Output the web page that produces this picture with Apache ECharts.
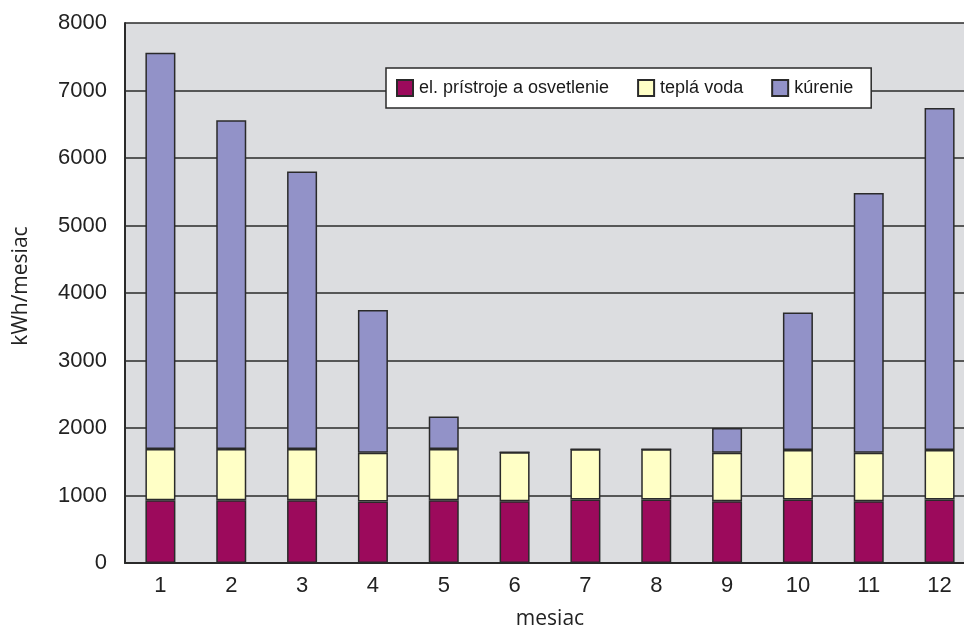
<!DOCTYPE html>
<html>
<head>
<meta charset="utf-8">
<script src="https://cdn.jsdelivr.net/npm/echarts@6/dist/echarts.min.js"></script>
<style>html,body{margin:0;padding:0;background:#fff;}#c{width:964px;height:628px;}</style>
</head>
<body>
<div id="c"></div>
<script>
const months = ['1','2','3','4','5','6','7','8','9','10','11','12'];
const elPristroje = [930, 930, 930, 910, 930, 915, 940, 940, 915, 940, 915, 940];
const teplaVoda = [760, 760, 760, 725, 760, 725, 745, 745, 720, 735, 720, 735];
const kurenie = [5870, 4870, 4110, 2115, 480, 0, 0, 0, 365, 2035, 3845, 5065];
const yTicks = [0, 1000, 2000, 3000, 4000, 5000, 6000, 7000, 8000];
const seriesNames = ['el. prístroje a osvetlenie', 'teplá voda', 'kúrenie'];
const colors = ['#9c0a5c', '#ffffc6', '#9292c8'];

const chart = echarts.init(document.getElementById('c'));
const border = {borderColor: '#2a2a2a', borderWidth: 1.5};
const mk = (name, data, color) => ({
  name, type: 'bar', stack: 'total', data, barWidth: 30,
  itemStyle: Object.assign({color}, border)
});
chart.setOption({
  animation: false,
  textStyle: {fontFamily: 'Liberation Sans, Arial, sans-serif'},
  grid: {left: 125, top: 23, width: 850, height: 540, show: true,
         backgroundColor: '#dcdde0', borderWidth: 0,
         containLabel: false, outerBoundsMode: 'none'},
  legend: {
    left: 386, top: 68, orient: 'horizontal',
    backgroundColor: '#ffffff', borderColor: '#2a2a2a', borderWidth: 1.5,
    padding: [11, 18, 11, 10], itemGap: 28, itemWidth: 16, itemHeight: 16,
    icon: 'rect',
    textStyle: {fontFamily: 'Liberation Sans, Arial, sans-serif', fontSize: 18, color: '#1a1a1a', padding: [0,0,0,1]},
    data: seriesNames
  },
  xAxis: {
    type: 'category', data: months,
    name: 'mesiac', nameLocation: 'middle', nameGap: 46,
    nameTextStyle: {fontFamily: 'Open Sans, sans-serif', fontSize: 21, color: '#222'},
    axisLine: {lineStyle: {color: '#2a2a2a', width: 2}},
    axisTick: {show: false},
    axisLabel: {fontSize: 22, color: '#222', margin: 12},
    splitLine: {show: false}
  },
  yAxis: {
    type: 'value', min: 0, max: 8000, interval: 1000,
    name: 'kWh/mesiac', nameLocation: 'middle', nameGap: 93, nameRotate: 90,
    nameTextStyle: {fontFamily: 'Open Sans, sans-serif', fontSize: 21, color: '#222', padding: [0,0,0,14]},
    axisLine: {show: true, lineStyle: {color: '#2a2a2a', width: 2}},
    axisTick: {show: false},
    axisLabel: {fontSize: 22, color: '#222', margin: 18,
      formatter: v => yTicks.includes(v) ? String(v) : ''},
    splitLine: {show: true, lineStyle: {color: '#2a2a2a', width: 1.5}}
  },
  series: [
    mk(seriesNames[0], elPristroje, colors[0]),
    mk(seriesNames[1], teplaVoda, colors[1]),
    mk(seriesNames[2], kurenie, colors[2])
  ]
});
</script>
</body>
</html>
